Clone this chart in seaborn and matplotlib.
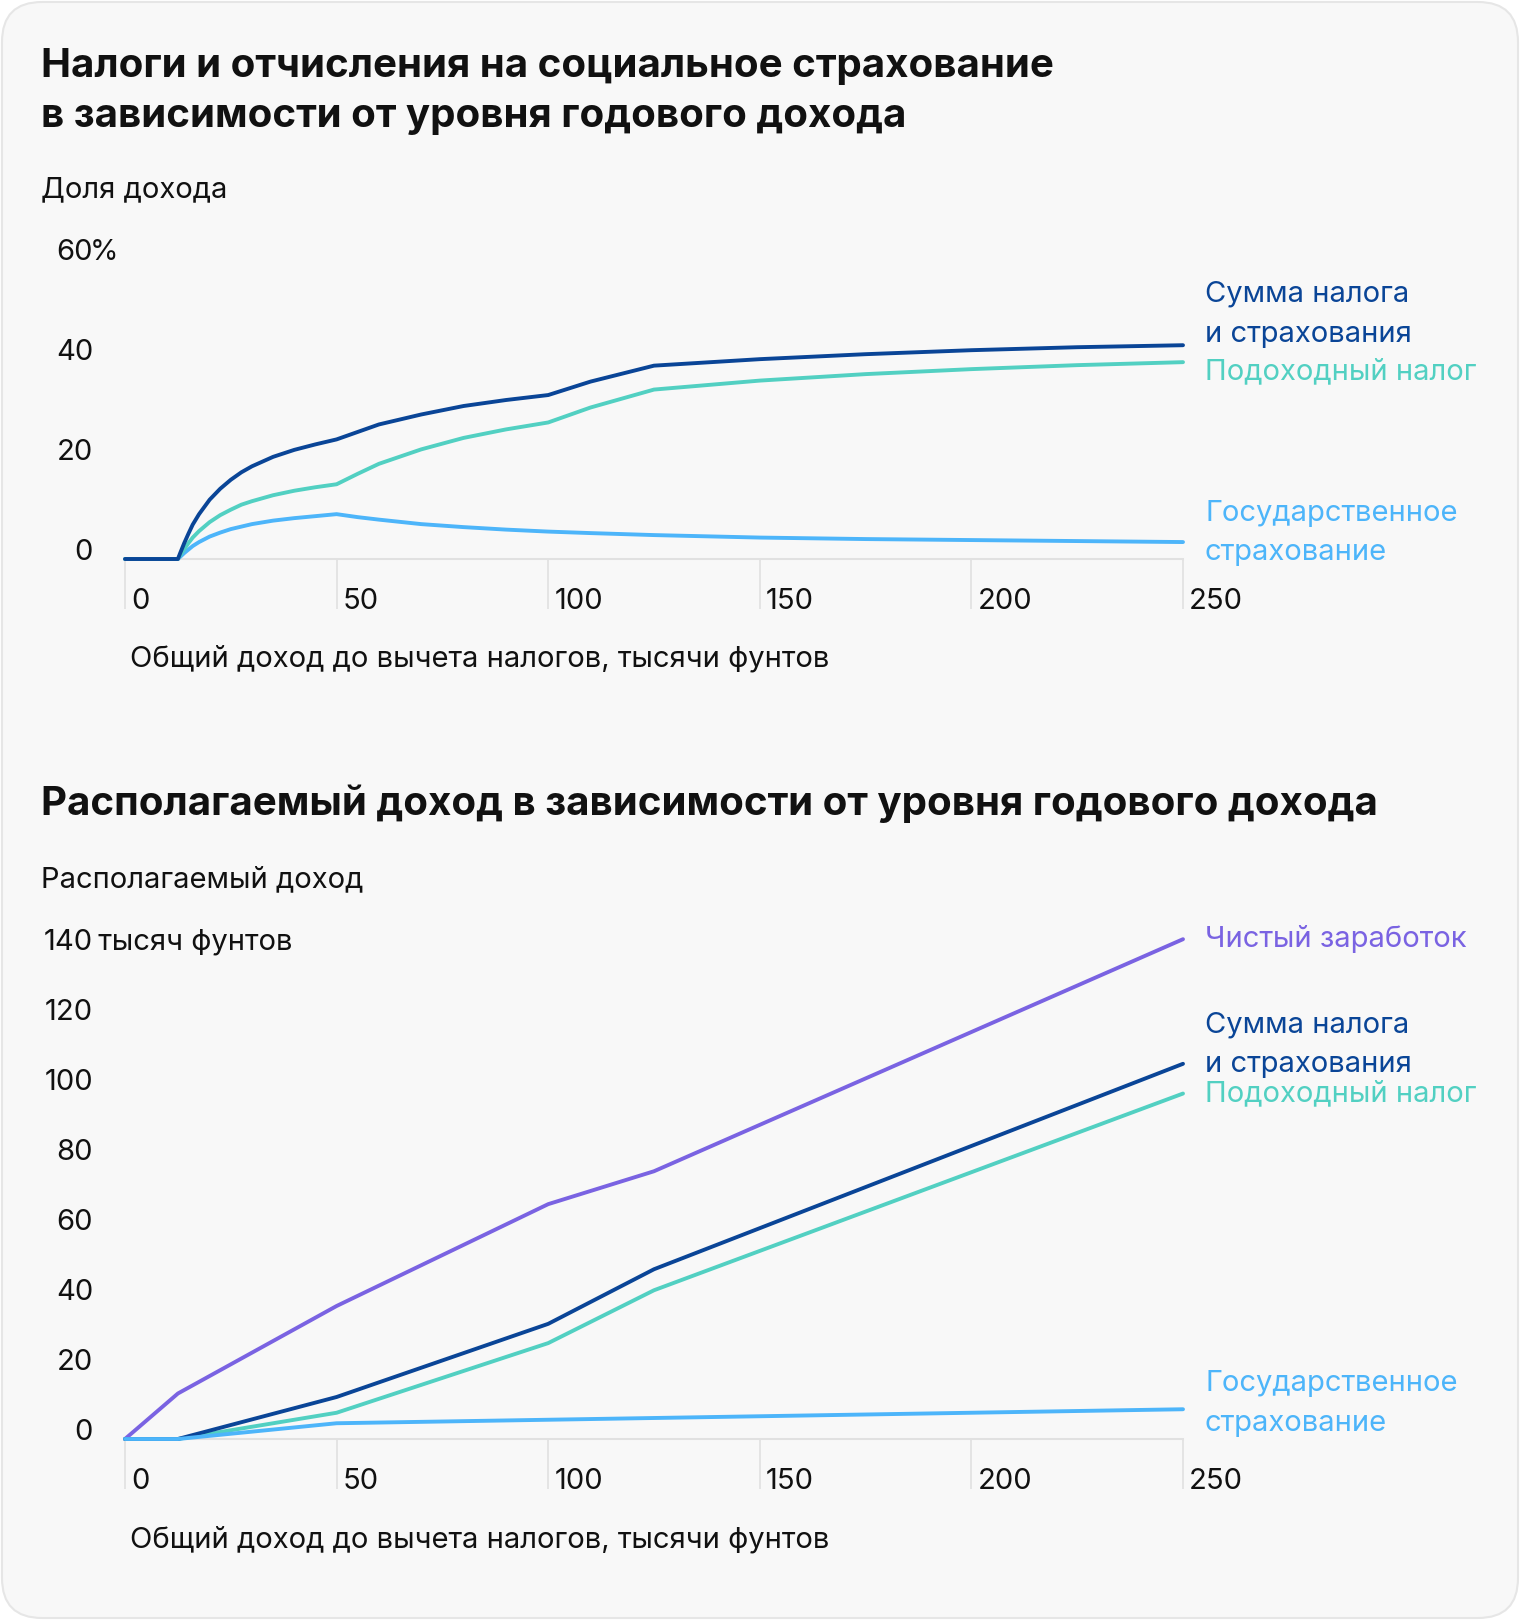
import matplotlib
matplotlib.use("Agg")
import matplotlib.pyplot as plt
import matplotlib.transforms as mtransforms
from matplotlib.patches import FancyBboxPatch
import seaborn as sns

# data...
income_share = [0, 12.5, 13, 14, 15, 16, 17.5, 20, 22.5, 25, 27.5, 30, 35, 40, 45, 50, 55, 60, 70, 80, 90, 100, 110, 125, 150, 175, 200, 225, 250]
income_tax_share = [0, 0, 0.7, 2.0, 3.2, 4.3, 5.6, 7.4, 8.8, 9.9, 10.9, 11.6, 12.8, 13.7, 14.4, 15.0, 17.1, 19.1, 22.0, 24.3, 26.0, 27.4, 30.4, 34.0, 35.8, 37.1, 38.1, 38.9, 39.5]
ni_share = [0, 0, 0.4, 1.2, 1.9, 2.6, 3.4, 4.5, 5.3, 6.0, 6.5, 7.0, 7.7, 8.2, 8.6, 9.0, 8.4, 7.9, 7.0, 6.4, 5.9, 5.5, 5.2, 4.8, 4.3, 4.0, 3.8, 3.6, 3.4]
total_share = [0, 0, 1.1, 3.2, 5.1, 6.9, 9.0, 11.9, 14.1, 15.9, 17.4, 18.6, 20.5, 21.9, 23.0, 24.0, 25.5, 27.0, 29.0, 30.7, 31.9, 32.9, 35.6, 38.8, 40.1, 41.1, 41.9, 42.5, 42.9]

income_abs = [0, 12.5, 50, 100, 125, 250]
net_income = [0, 13.0, 38.0, 67.1, 76.5, 142.8]
total_abs = [0, 0, 12.0, 32.9, 48.5, 107.2]
income_tax_abs = [0, 0, 7.5, 27.4, 42.5, 98.7]
ni_abs = [0, 0, 4.5, 5.5, 6.0, 8.5]

x_ticks = [0, 50, 100, 150, 200, 250]
y_ticks_top = [0, 20, 40, 60]
y_ticks_bottom = [0, 20, 40, 60, 80, 100, 120, 140]

DARK = "#0a4597"
TEAL = "#52d0c2"
LIGHT = "#4db5fa"
PURPLE = "#7a63e2"
GRID = "#e1e1e1"
BG = "#f8f8f8"
INK = "#111111"

sns.set_style("white")
plt.rcParams["font.family"] = ["Inter", "DejaVu Sans"]

FS = 21
TFS = 29
fig = plt.figure(figsize=(15.2, 16.2), dpi=100)
fig.patch.set_facecolor("white")
W, H = 1520, 1620

# rounded card background
bg = fig.add_axes([0, 0, 1, 1], zorder=-10)
bg.set_xlim(0, W)
bg.set_ylim(0, H)
bg.axis("off")
bg.add_patch(FancyBboxPatch((2, 2), 1516, 1616, boxstyle="round,pad=0,rounding_size=40",
                            facecolor=BG, edgecolor="#e6e6e6", lw=1.5))


def setup_axes(y0_px, ytop_px, ymax, yticks, suffix):
    ax = fig.add_axes([125 / W, 1 - y0_px / H, (1183 - 125) / W, (y0_px - ytop_px) / H])
    ax.set_facecolor("none")
    ax.set_xlim(0, 250)
    ax.set_ylim(0, ymax)
    for s in ["top", "right", "left"]:
        ax.spines[s].set_visible(False)
    ax.spines["bottom"].set_color(GRID)
    ax.spines["bottom"].set_linewidth(1.5)
    ax.set_xticks(x_ticks)
    ax.set_xticklabels([str(t) for t in x_ticks])
    ax.tick_params(axis="x", bottom=True, direction="out", length=36, width=1.2, color=GRID,
                   pad=-15, labelsize=FS, labelcolor=INK)
    off = mtransforms.ScaledTranslation(6 / 100, 0, fig.dpi_scale_trans)
    for lab in ax.get_xticklabels():
        lab.set_horizontalalignment("left")
        lab.set_transform(lab.get_transform() + off)
    ax.set_yticks(yticks)
    ax.set_yticklabels([str(t) for t in yticks])
    ax.tick_params(axis="y", left=False, length=0, pad=23, labelsize=FS, labelcolor=INK)
    up = mtransforms.ScaledTranslation(0, 7 / 100, fig.dpi_scale_trans)
    for lab in ax.get_yticklabels():
        lab.set_verticalalignment("center")
        lab.set_transform(lab.get_transform() + up)
    # unit suffix after the top label
    suf_tr = mtransforms.blended_transform_factory(ax.transAxes, ax.transData) + \
        mtransforms.ScaledTranslation(-35 / 100, 7 / 100, fig.dpi_scale_trans)
    ax.text(0, yticks[-1], suffix, transform=suf_tr, ha="left", va="center", fontsize=FS, color=INK)
    ax.set_xlabel("")
    ax.set_ylabel("")
    return ax


def draw(ax, x, y, color, label, dy):
    sns.lineplot(x=x, y=y, ax=ax, color=color, lw=2.8, clip_on=False, zorder=3)
    ax.annotate(label, xy=(x[-1], y[-1]), xytext=(22, dy), textcoords="offset pixels",
                ha="left", va="center", color=color, fontsize=FS, linespacing=1.6,
                annotation_clip=False)


# top chart...
fig.text(41 / W, 1 - 91.5 / H, "Налоги и отчисления на социальное страхование\nв зависимости от уровня годового дохода",
         fontsize=TFS, fontweight="bold", va="center", ha="left", linespacing=1.44, color=INK)
fig.text(41 / W, 1 - 190 / H, "Доля дохода", fontsize=FS, va="center", ha="left", color=INK)
ax1 = setup_axes(559, 260, 60, y_ticks_top, "%")
draw(ax1, income_share, ni_share, LIGHT, "Государственное\nстрахование", 9)
draw(ax1, income_share, income_tax_share, TEAL, "Подоходный налог", -10)
draw(ax1, income_share, total_share, DARK, "Сумма налога\nи страхования", 31)
fig.text(130 / W, 1 - 659 / H, "Общий доход до вычета налогов, тысячи фунтов", fontsize=FS,
         va="center", ha="left", color=INK)

# bottom chart...
fig.text(41 / W, 1 - 804 / H, "Располагаемый доход в зависимости от уровня годового дохода",
         fontsize=TFS, fontweight="bold", va="center", ha="left", color=INK)
fig.text(41 / W, 1 - 880 / H, "Располагаемый доход", fontsize=FS, va="center", ha="left", color=INK)
ax2 = setup_axes(1439, 949, 140, y_ticks_bottom, " тысяч фунтов")
draw(ax2, income_abs, net_income, PURPLE, "Чистый заработок", 0)
draw(ax2, income_abs, income_tax_abs, TEAL, "Подоходный налог", 0)
draw(ax2, income_abs, total_abs, DARK, "Сумма налога\nи страхования", 19)
draw(ax2, income_abs, ni_abs, LIGHT, "Государственное\nстрахование", 6)
fig.text(130 / W, 1 - 1540 / H, "Общий доход до вычета налогов, тысячи фунтов", fontsize=FS,
         va="center", ha="left", color=INK)

fig.savefig("out.png", dpi=100, facecolor=fig.get_facecolor())
